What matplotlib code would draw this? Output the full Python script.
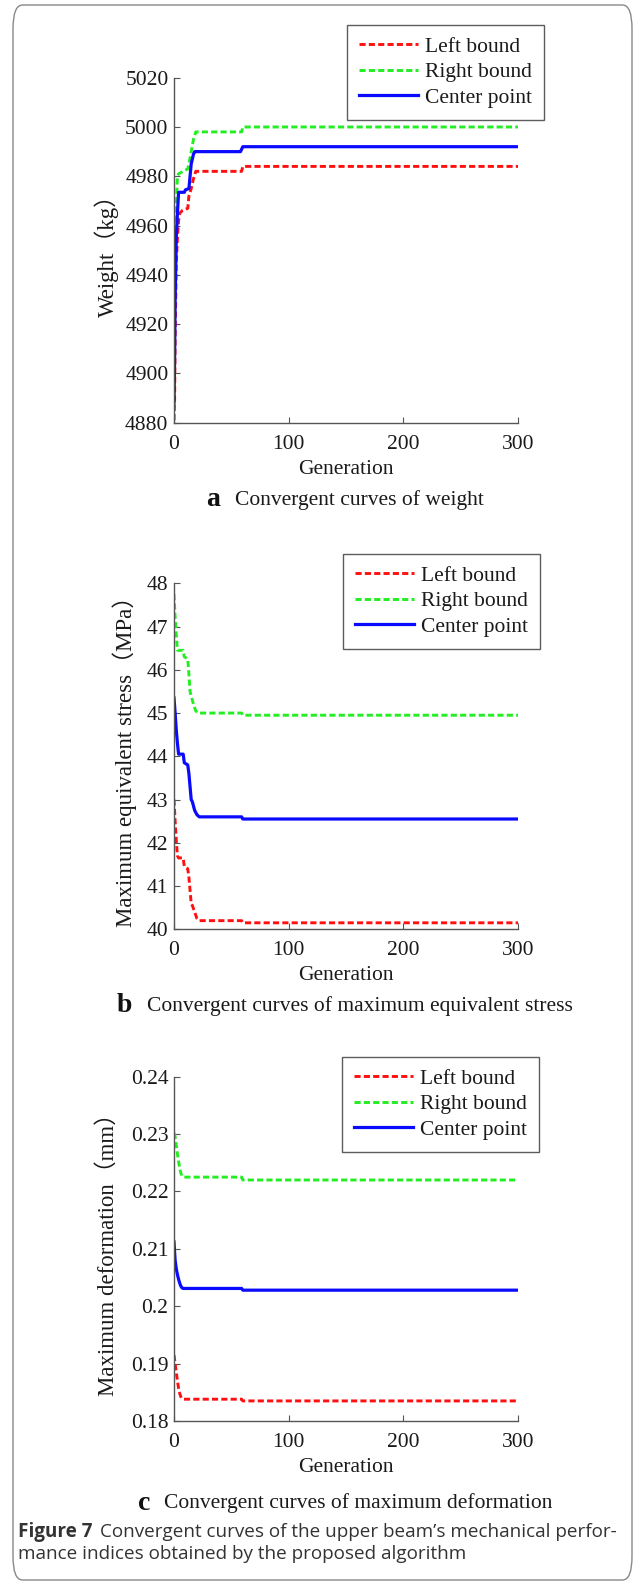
import matplotlib
matplotlib.use("Agg")
import matplotlib.pyplot as plt
from matplotlib.patches import FancyBboxPatch
from matplotlib.ticker import FormatStrFormatter

# panel a: weight (kg)
gen_a_left = [0, 0.5, 1, 2, 3, 4, 5, 7, 12, 13, 15, 17, 19, 20, 59, 60, 300]
val_a_left = [4881, 4888, 4915, 4945, 4955, 4962, 4965, 4966, 4967, 4972, 4975, 4979, 4982, 4982, 4982, 4984, 4984]
gen_a_right = [0, 1, 2, 3, 4, 8, 12, 13, 15, 17, 19, 20, 59, 60, 300]
val_a_right = [4935, 4955, 4968, 4980, 4981, 4982, 4983, 4985, 4990, 4995, 4998, 4998, 4998, 5000, 5000]
gen_a_center = [0, 0.5, 1, 2, 3, 4, 9, 10, 13, 14, 15, 17, 18, 19, 58, 60, 300]
val_a_center = [4888, 4905, 4930, 4955, 4965, 4973.5, 4973.5, 4974.5, 4975, 4980, 4985, 4989, 4990, 4990, 4990, 4992, 4992]

# panel b: max equivalent stress (MPa)
gen_b_left = [0, 1, 2, 3, 4, 8, 9, 12, 13, 14, 15, 16, 18, 20, 22, 59, 60, 300]
val_b_left = [43.0, 42.5, 42.05, 41.7, 41.65, 41.65, 41.45, 41.4, 41.2, 40.9, 40.6, 40.55, 40.4, 40.25, 40.2, 40.2, 40.15, 40.15]
gen_b_right = [0, 1, 2, 3, 8, 9, 12, 13, 14, 15, 17, 19, 21, 59, 60, 300]
val_b_right = [47.75, 47.2, 46.8, 46.45, 46.45, 46.3, 46.25, 45.9, 45.5, 45.4, 45.2, 45.05, 45.0, 45.0, 44.95, 44.95]
gen_b_center = [0, 1, 2, 3, 4, 8, 9, 12, 13, 14, 15, 16, 18, 20, 22, 59, 60, 300]
val_b_center = [45.35, 45.0, 44.6, 44.3, 44.05, 44.05, 43.85, 43.8, 43.6, 43.3, 43.0, 42.95, 42.75, 42.65, 42.6, 42.6, 42.55, 42.55]

# panel c: max deformation (mm)
gen_c_left = [0, 1, 2, 3, 4, 5, 6, 7, 8, 59, 60, 300]
val_c_left = [0.1915, 0.1900, 0.1885, 0.1870, 0.1857, 0.1848, 0.1842, 0.1839, 0.1838, 0.1838, 0.1835, 0.1835]
gen_c_right = [0, 1, 2, 3, 4, 5, 6, 7, 8, 59, 60, 300]
val_c_right = [0.2302, 0.2295, 0.2280, 0.2265, 0.2252, 0.2240, 0.2232, 0.2227, 0.2225, 0.2225, 0.2220, 0.2220]
gen_c_center = [0, 0.5, 1, 2, 3, 4, 5, 6, 7, 8, 59, 60, 300]
val_c_center = [0.2112, 0.2095, 0.2080, 0.2065, 0.2055, 0.2047, 0.2040, 0.2035, 0.2032, 0.2031, 0.2031, 0.2028, 0.2028]

series_names = ["Left bound", "Right bound", "Center point"]
x_ticks = [0, 100, 200, 300]

SERIF = ["Liberation Serif", "Noto Sans CJK SC"]
W, H = 637, 1583
fig = plt.figure(figsize=(W / 100, H / 100), dpi=100)


def px_axes(left, top, right, bottom):
    return fig.add_axes([left / W, 1 - bottom / H, (right - left) / W, (bottom - top) / H])


def draw_panel(top, bottom, data, ylim, yticks, ylabel, legend_left, legend_top, letter, caption,
               gen_y, cap_y, ylab_x):
    ax = px_axes(174, top, 518, bottom)
    (gl, vl), (gr, vr), (gc, vc) = data
    ax.plot(gl, vl, color="#ff1010", lw=2.1, dashes=(2.1, 1.1), label=series_names[0])
    ax.plot(gr, vr, color="#22ee22", lw=2.1, dashes=(2.1, 1.1), label=series_names[1])
    ax.plot(gc, vc, color="#0a0aff", lw=2.3, label=series_names[2])
    ax.set_xlim(0, 300)
    ax.set_ylim(*ylim)
    ax.set_xticks(x_ticks)
    ax.set_yticks(yticks)
    ax.yaxis.set_major_formatter(FormatStrFormatter("%g"))
    for s in ["top", "right"]:
        ax.spines[s].set_visible(False)
    for s in ["left", "bottom"]:
        ax.spines[s].set_color("#555555")
        ax.spines[s].set_linewidth(1.0)
    ax.tick_params(direction="in", length=4, color="#555555", labelsize=15.5)
    ax.tick_params(axis="x", pad=8.5)
    ax.tick_params(axis="y", pad=4)
    for lab in ax.get_xticklabels() + ax.get_yticklabels():
        lab.set_family(SERIF)
        lab.set_color("#1a1a1a")
    ax.set_ylabel(ylabel, family=SERIF, fontsize=16.5, color="#1a1a1a")
    ax.yaxis.set_label_coords(ylab_x / W, 0.5,
                              transform=matplotlib.transforms.blended_transform_factory(
                                  fig.transFigure, ax.transAxes))
    ax.yaxis.label.set_va("center")
    leg = ax.legend(loc="upper left", bbox_to_anchor=(legend_left / W, 1 - legend_top / H),
                    bbox_transform=fig.transFigure, borderaxespad=0, handlelength=2.75,
                    prop={"family": SERIF, "size": 15.5}, fancybox=False, frameon=True,
                    borderpad=0.55, labelspacing=0.25, handletextpad=0.33)
    leg.get_frame().set_edgecolor("#333333")
    leg.get_frame().set_linewidth(1.0)
    for t in leg.get_texts():
        t.set_color("#1a1a1a")
    fig.text(346 / W, 1 - gen_y / H, "Generation", ha="center", va="center",
             family=SERIF, fontsize=15.5, color="#1a1a1a")
    t1 = fig.text(0, 1 - cap_y / H, letter + "  ", ha="left", va="center",
                  family=SERIF, fontsize=20, fontweight="bold", color="#111111")
    t2 = fig.text(0, 1 - cap_y / H, caption, ha="left", va="center",
                  family=SERIF, fontsize=15.5, color="#1a1a1a")
    # centre letter + caption as one line under the axes
    r = fig.canvas.get_renderer()
    w1 = t1.get_window_extent(r).width
    w2 = t2.get_window_extent(r).width
    x0 = 345 - (w1 + w2) / 2
    t1.set_x(x0 / W)
    t2.set_x((x0 + w1) / W)
    return ax


draw_panel(77.7, 422.7,
           [(gen_a_left, val_a_left), (gen_a_right, val_a_right), (gen_a_center, val_a_center)],
           (4880, 5020), [4880, 4900, 4920, 4940, 4960, 4980, 5000, 5020], "Weight（kg）",
           347, 25, "a", "Convergent curves of weight", 469, 500, 107)
draw_panel(583.3, 929.3,
           [(gen_b_left, val_b_left), (gen_b_right, val_b_right), (gen_b_center, val_b_center)],
           (40, 48), [40, 41, 42, 43, 44, 45, 46, 47, 48], "Maximum equivalent stress（MPa）",
           343, 554, "b", "Convergent curves of maximum equivalent stress", 976, 1006, 125)
draw_panel(1076.7, 1421,
           [(gen_c_left, val_c_left), (gen_c_right, val_c_right), (gen_c_center, val_c_center)],
           (0.18, 0.24), [0.18, 0.19, 0.2, 0.21, 0.22, 0.23, 0.24], "Maximum deformation（mm）",
           342, 1057, "c", "Convergent curves of maximum deformation", 1468, 1503, 108)

# figure caption
SANS = ["Open Sans", "DejaVu Sans"]
r = fig.canvas.get_renderer()
tb = fig.text(18 / W, 1 - 1532 / H, "Figure 7", ha="left", va="center",
              family=SANS, fontsize=13.6, fontweight="bold", color="#333333")
wb = tb.get_window_extent(r).width
fig.text((18 + wb + 8) / W, 1 - 1532 / H,
         "Convergent curves of the upper beam\u2019s mechanical perfor-",
         ha="left", va="center", family=SANS, fontsize=13.6, color="#333333")
fig.text(18 / W, 1 - 1554 / H, "mance indices obtained by the proposed algorithm",
         ha="left", va="center", family=SANS, fontsize=13.6, color="#333333")

# rounded frame around the figure
frame = FancyBboxPatch((13 / W, 1 - 1580 / H), (632 - 13) / W, (1580 - 5) / H,
                       boxstyle="round,pad=0,rounding_size=0.015",
                       transform=fig.transFigure, fill=False, edgecolor="#888888", lw=1.0)
fig.patches.append(frame)

fig.savefig("out.png", dpi=100)
